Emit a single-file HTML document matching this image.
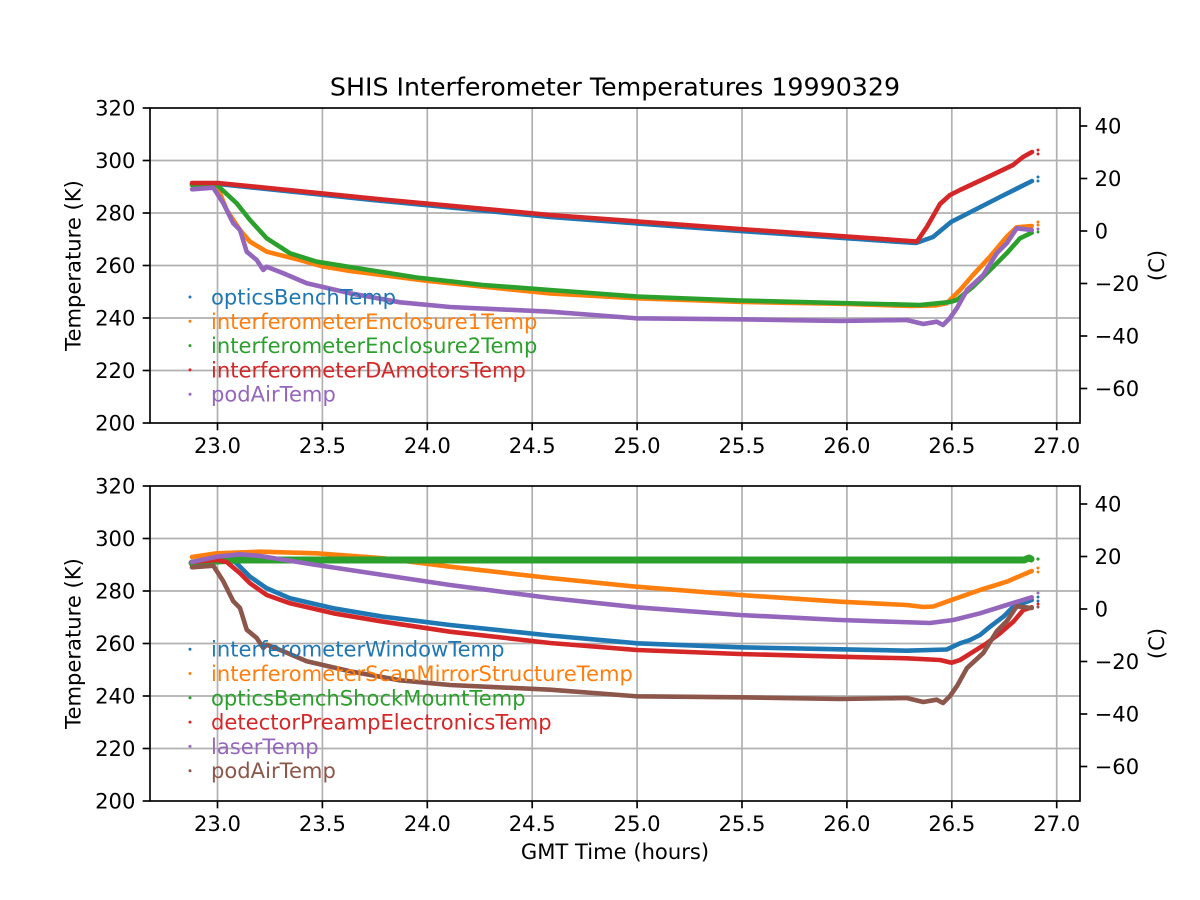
<!DOCTYPE html>
<html><head><meta charset="utf-8"><style>
html,body{margin:0;padding:0;background:#fff;}
svg{display:block;font-family:"DejaVu Sans","Liberation Sans",sans-serif;}
</style></head><body>
<svg width="1200" height="900" viewBox="0 0 1200 900" xmlns="http://www.w3.org/2000/svg">
<rect width="1200" height="900" fill="#fff"/>
<text x="615" y="95.5" font-size="25.3" text-anchor="middle" fill="#000">SHIS Interferometer Temperatures 19990329</text>

<!-- ============ TOP AXES ============ -->
<g stroke="#b0b0b0" stroke-width="1.67" fill="none">
  <line x1="217.5" y1="108" x2="217.5" y2="423"/><line x1="322.4" y1="108" x2="322.4" y2="423"/>
  <line x1="427.3" y1="108" x2="427.3" y2="423"/><line x1="532.2" y1="108" x2="532.2" y2="423"/>
  <line x1="637.1" y1="108" x2="637.1" y2="423"/><line x1="742" y1="108" x2="742" y2="423"/>
  <line x1="846.9" y1="108" x2="846.9" y2="423"/><line x1="951.8" y1="108" x2="951.8" y2="423"/>
  <line x1="1056.7" y1="108" x2="1056.7" y2="423"/>
  <line x1="150" y1="160.5" x2="1080" y2="160.5"/><line x1="150" y1="213" x2="1080" y2="213"/>
  <line x1="150" y1="265.5" x2="1080" y2="265.5"/><line x1="150" y1="318" x2="1080" y2="318"/>
  <line x1="150" y1="370.5" x2="1080" y2="370.5"/>
</g>
<g fill="none" stroke-width="4.6" stroke-linejoin="round" stroke-linecap="round">
  <polyline stroke="#1f77b4" points="192,184 218,184 383,201 550,217 740,231 916,243 933,237 951,222 1000,197 1032,181"/>
  <polyline stroke="#ff7f0e" points="192,185 217,186 226.7,210 240,230 250,241.7 266.7,251.7 300,260 323,266.5 350,271 428,281 533,291.7 550,293.5 638,298.3 743,302 848,304 911,306 935,305.5 946.7,303.3 960,290 973,275 990,256.7 1006.7,236.7 1016.7,227.3 1031.7,226"/>
  <polyline stroke="#2ca02c" points="192,185 217,185 236.7,203.3 250,220 266.7,238.3 290,253.3 316.7,261.7 350,267 416.7,277.5 483,285 550,290 636.7,296.5 740,300.5 840,303 920,305 950,302 956.7,300 973,286.7 990,270 1006.7,253.3 1020,238.3 1031.7,232.7"/>
  <polyline stroke="#d62728" points="192,183 218,183 383,199.5 550,215 740,229 917,241.5 927,226.7 940,204 950,195 960,190 990,176 1013,165 1023,157 1032,152"/>
  <polyline stroke="#9467bd" points="192,189.3 213.3,187.7 223.3,203.3 233.3,223.3 240,230 246.7,251.7 256.7,260 263.3,270 266.7,266.7 283.3,273.3 306.7,283.3 350,293.3 400,302.3 450,307 550,311.7 636.7,318.3 740,319.3 840,321 906.7,320 923.3,324 936.7,321.7 943,325 950,318 957,308 967,290 983.3,275 996.7,253.3 1006.7,243.3 1016.7,228.3 1031.7,230"/>
</g>
<g>
  <circle cx="1038" cy="150" r="1.5" fill="#d62728"/><circle cx="1038" cy="154" r="1.5" fill="#d62728"/>
  <circle cx="1038" cy="177" r="1.5" fill="#1f77b4"/><circle cx="1038" cy="181" r="1.5" fill="#1f77b4"/>
  <circle cx="1038" cy="222" r="1.5" fill="#ff7f0e"/><circle cx="1038" cy="225" r="1.5" fill="#ff7f0e"/>
  <circle cx="1038" cy="229" r="1.5" fill="#9467bd"/><circle cx="1038" cy="232" r="1.5" fill="#2ca02c"/>
</g>
<!-- legend top -->
<g font-size="21.1">
  <circle cx="190" cy="297" r="1.5" fill="#1f77b4"/><text x="211" y="304.5" fill="#1f77b4">opticsBenchTemp</text>
  <circle cx="190" cy="321.3" r="1.5" fill="#ff7f0e"/><text x="211" y="328.8" fill="#ff7f0e">interferometerEnclosure1Temp</text>
  <circle cx="190" cy="345.6" r="1.5" fill="#2ca02c"/><text x="211" y="353.1" fill="#2ca02c">interferometerEnclosure2Temp</text>
  <circle cx="190" cy="369.9" r="1.5" fill="#d62728"/><text x="211" y="377.4" fill="#d62728">interferometerDAmotorsTemp</text>
  <circle cx="190" cy="394.2" r="1.5" fill="#9467bd"/><text x="211" y="401.7" fill="#9467bd">podAirTemp</text>
</g>
<!-- frame + ticks top -->
<rect x="150" y="108" width="930" height="315" fill="none" stroke="#000" stroke-width="1.67"/>
<g stroke="#000" stroke-width="1.67">
  <line x1="142.7" y1="108" x2="150" y2="108"/><line x1="142.7" y1="160.5" x2="150" y2="160.5"/>
  <line x1="142.7" y1="213" x2="150" y2="213"/><line x1="142.7" y1="265.5" x2="150" y2="265.5"/>
  <line x1="142.7" y1="318" x2="150" y2="318"/><line x1="142.7" y1="370.5" x2="150" y2="370.5"/>
  <line x1="142.7" y1="423" x2="150" y2="423"/>
  <line x1="217.5" y1="423" x2="217.5" y2="430.3"/><line x1="322.4" y1="423" x2="322.4" y2="430.3"/>
  <line x1="427.3" y1="423" x2="427.3" y2="430.3"/><line x1="532.2" y1="423" x2="532.2" y2="430.3"/>
  <line x1="637.1" y1="423" x2="637.1" y2="430.3"/><line x1="742" y1="423" x2="742" y2="430.3"/>
  <line x1="846.9" y1="423" x2="846.9" y2="430.3"/><line x1="951.8" y1="423" x2="951.8" y2="430.3"/>
  <line x1="1056.7" y1="423" x2="1056.7" y2="430.3"/>
  <line x1="1080" y1="126" x2="1087.3" y2="126"/><line x1="1080" y1="178.5" x2="1087.3" y2="178.5"/>
  <line x1="1080" y1="231" x2="1087.3" y2="231"/><line x1="1080" y1="283.5" x2="1087.3" y2="283.5"/>
  <line x1="1080" y1="336" x2="1087.3" y2="336"/><line x1="1080" y1="388.5" x2="1087.3" y2="388.5"/>
</g>
<g font-size="21.1" fill="#000">
  <g text-anchor="end">
    <text x="135.4" y="115.6">320</text><text x="135.4" y="168.1">300</text><text x="135.4" y="220.6">280</text>
    <text x="135.4" y="273.1">260</text><text x="135.4" y="325.6">240</text><text x="135.4" y="378.1">220</text>
    <text x="135.4" y="430.6">200</text>
  </g>
  <g text-anchor="middle">
    <text x="217.5" y="452.8">23.0</text><text x="322.4" y="452.8">23.5</text><text x="427.3" y="452.8">24.0</text>
    <text x="532.2" y="452.8">24.5</text><text x="637.1" y="452.8">25.0</text><text x="742" y="452.8">25.5</text>
    <text x="846.9" y="452.8">26.0</text><text x="951.8" y="452.8">26.5</text><text x="1056.7" y="452.8">27.0</text>
  </g>
  <g text-anchor="start">
    <text x="1094.6" y="133.6">40</text><text x="1094.6" y="186.1">20</text><text x="1094.6" y="238.6">0</text>
    <text x="1094.6" y="291.1">−20</text><text x="1094.6" y="343.6">−40</text><text x="1094.6" y="396.1">−60</text>
  </g>
  <text transform="translate(80.5,265.5) rotate(-90)" text-anchor="middle">Temperature (K)</text>
  <text transform="translate(1164,265.5) rotate(-90)" text-anchor="middle">(C)</text>
</g>

<!-- ============ BOTTOM AXES ============ -->
<g stroke="#b0b0b0" stroke-width="1.67" fill="none">
  <line x1="217.5" y1="486" x2="217.5" y2="801"/><line x1="322.4" y1="486" x2="322.4" y2="801"/>
  <line x1="427.3" y1="486" x2="427.3" y2="801"/><line x1="532.2" y1="486" x2="532.2" y2="801"/>
  <line x1="637.1" y1="486" x2="637.1" y2="801"/><line x1="742" y1="486" x2="742" y2="801"/>
  <line x1="846.9" y1="486" x2="846.9" y2="801"/><line x1="951.8" y1="486" x2="951.8" y2="801"/>
  <line x1="1056.7" y1="486" x2="1056.7" y2="801"/>
  <line x1="150" y1="538.5" x2="1080" y2="538.5"/><line x1="150" y1="591" x2="1080" y2="591"/>
  <line x1="150" y1="643.5" x2="1080" y2="643.5"/><line x1="150" y1="696" x2="1080" y2="696"/>
  <line x1="150" y1="748.5" x2="1080" y2="748.5"/>
</g>
<g fill="none" stroke-width="4.6" stroke-linejoin="round" stroke-linecap="round">
  <polyline stroke="#1f77b4" points="192,562 217,559 233,560 240,566.7 250,576.7 266.7,588.3 290,598.3 333.3,608.3 383.3,616.7 450,625 550,635.5 636.7,643.3 740,647.3 840,649.3 906.7,650.7 946.7,649.5 960,643.3 970,640 980,635 990,626.7 1003.3,616.7 1013.3,606.7 1031.7,600"/>
  <polyline stroke="#ff7f0e" points="192,557 216.7,553.3 260,551.7 316.7,553.3 383.3,558.3 450,566.7 550,578 636.7,586.7 740,595 840,601.7 906.7,605 923.3,607 933.3,606.5 946.7,601.7 980,590 1006.7,581.7 1031.7,571"/>
  <polyline stroke="#2ca02c" stroke-width="7" points="192,563 217,561 240,560 600,560 1024,560 1029,558 1031,559"/>
  <polyline stroke="#d62728" points="192,562 217,560 226.7,562 240,573.3 250,583.3 266.7,595 290,603.3 333.3,613.3 383.3,621.7 450,631.7 550,643 636.7,650 740,654 840,656.7 906.7,658.3 940,660 951.7,662.7 960,660 973.3,651.7 986.7,643.3 1000,633.3 1013.3,621.7 1023.3,610 1031.7,607.3"/>
  <polyline stroke="#9467bd" points="192,562 216.7,556.7 240,554.3 260,556 316.7,565 383.3,575 450,585 550,598 636.7,607.3 740,615 840,620 930,623 953.3,620 980,613.3 1006.7,605 1031.7,597.3"/>
  <polyline stroke="#8c564b" transform="translate(0,378)" points="192,189.3 213.3,187.7 223.3,203.3 233.3,223.3 240,230 246.7,251.7 256.7,260 263.3,270 266.7,266.7 283.3,273.3 306.7,283.3 350,293.3 400,302.3 450,307 550,311.7 636.7,318.3 740,319.3 840,321 906.7,320 923.3,324 936.7,321.7 943,325 950,318 957,308 967,290 983.3,275 996.7,253.3 1006.7,243.3 1016.7,228.3 1031.7,230"/>
</g>
<g>
  <circle cx="1038" cy="559" r="1.6" fill="#2ca02c"/>
  <circle cx="1038" cy="568" r="1.5" fill="#ff7f0e"/><circle cx="1038" cy="572" r="1.5" fill="#ff7f0e"/>
  <circle cx="1038" cy="593" r="1.5" fill="#9467bd"/><circle cx="1038" cy="597" r="1.5" fill="#1f77b4"/>
  <circle cx="1038" cy="601" r="1.5" fill="#1f77b4"/><circle cx="1038" cy="604" r="1.5" fill="#d62728"/>
  <circle cx="1038" cy="607" r="1.5" fill="#8c564b"/>
</g>
<!-- legend bottom -->
<g font-size="21.1">
  <circle cx="190" cy="649.2" r="1.5" fill="#1f77b4"/><text x="211" y="656.7" fill="#1f77b4">interferometerWindowTemp</text>
  <circle cx="190" cy="673.5" r="1.5" fill="#ff7f0e"/><text x="211" y="681" fill="#ff7f0e">interferometerScanMirrorStructureTemp</text>
  <circle cx="190" cy="697.8" r="1.5" fill="#2ca02c"/><text x="211" y="705.3" fill="#2ca02c">opticsBenchShockMountTemp</text>
  <circle cx="190" cy="722.1" r="1.5" fill="#d62728"/><text x="211" y="729.6" fill="#d62728">detectorPreampElectronicsTemp</text>
  <circle cx="190" cy="746.4" r="1.5" fill="#9467bd"/><text x="211" y="753.9" fill="#9467bd">laserTemp</text>
  <circle cx="190" cy="770.7" r="1.5" fill="#8c564b"/><text x="211" y="778.2" fill="#8c564b">podAirTemp</text>
</g>
<rect x="150" y="486" width="930" height="315" fill="none" stroke="#000" stroke-width="1.67"/>
<g stroke="#000" stroke-width="1.67">
  <line x1="142.7" y1="486" x2="150" y2="486"/><line x1="142.7" y1="538.5" x2="150" y2="538.5"/>
  <line x1="142.7" y1="591" x2="150" y2="591"/><line x1="142.7" y1="643.5" x2="150" y2="643.5"/>
  <line x1="142.7" y1="696" x2="150" y2="696"/><line x1="142.7" y1="748.5" x2="150" y2="748.5"/>
  <line x1="142.7" y1="801" x2="150" y2="801"/>
  <line x1="217.5" y1="801" x2="217.5" y2="808.3"/><line x1="322.4" y1="801" x2="322.4" y2="808.3"/>
  <line x1="427.3" y1="801" x2="427.3" y2="808.3"/><line x1="532.2" y1="801" x2="532.2" y2="808.3"/>
  <line x1="637.1" y1="801" x2="637.1" y2="808.3"/><line x1="742" y1="801" x2="742" y2="808.3"/>
  <line x1="846.9" y1="801" x2="846.9" y2="808.3"/><line x1="951.8" y1="801" x2="951.8" y2="808.3"/>
  <line x1="1056.7" y1="801" x2="1056.7" y2="808.3"/>
  <line x1="1080" y1="504" x2="1087.3" y2="504"/><line x1="1080" y1="556.5" x2="1087.3" y2="556.5"/>
  <line x1="1080" y1="609" x2="1087.3" y2="609"/><line x1="1080" y1="661.5" x2="1087.3" y2="661.5"/>
  <line x1="1080" y1="714" x2="1087.3" y2="714"/><line x1="1080" y1="766.5" x2="1087.3" y2="766.5"/>
</g>
<g font-size="21.1" fill="#000">
  <g text-anchor="end">
    <text x="135.4" y="493.6">320</text><text x="135.4" y="546.1">300</text><text x="135.4" y="598.6">280</text>
    <text x="135.4" y="651.1">260</text><text x="135.4" y="703.6">240</text><text x="135.4" y="756.1">220</text>
    <text x="135.4" y="808.6">200</text>
  </g>
  <g text-anchor="middle">
    <text x="217.5" y="830.8">23.0</text><text x="322.4" y="830.8">23.5</text><text x="427.3" y="830.8">24.0</text>
    <text x="532.2" y="830.8">24.5</text><text x="637.1" y="830.8">25.0</text><text x="742" y="830.8">25.5</text>
    <text x="846.9" y="830.8">26.0</text><text x="951.8" y="830.8">26.5</text><text x="1056.7" y="830.8">27.0</text>
  </g>
  <g text-anchor="start">
    <text x="1094.6" y="511.6">40</text><text x="1094.6" y="564.1">20</text><text x="1094.6" y="616.6">0</text>
    <text x="1094.6" y="669.1">−20</text><text x="1094.6" y="721.6">−40</text><text x="1094.6" y="774.1">−60</text>
  </g>
  <text transform="translate(80.5,643.5) rotate(-90)" text-anchor="middle">Temperature (K)</text>
  <text transform="translate(1164,643.5) rotate(-90)" text-anchor="middle">(C)</text>
  <text x="615" y="859" text-anchor="middle">GMT Time (hours)</text>
</g>
</svg>
</body></html>
